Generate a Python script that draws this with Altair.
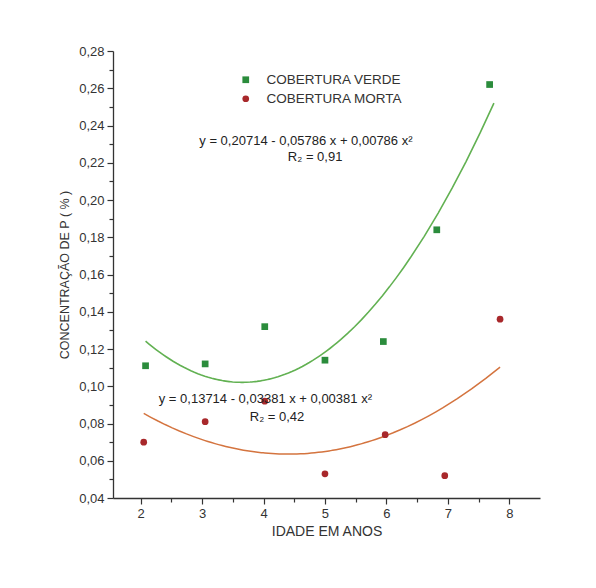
import altair as alt
import pandas as pd

# ---- data ----
idade_verde = [2.08, 3.05, 4.02, 5.0, 5.95, 6.82, 7.68]
p_verde = [0.111, 0.112, 0.132, 0.114, 0.124, 0.184, 0.262]
idade_morta = [2.05, 3.05, 4.02, 5.0, 5.98, 6.95, 7.85]
p_morta = [0.070, 0.081, 0.092, 0.053, 0.074, 0.052, 0.136]
series = ["COBERTURA VERDE", "COBERTURA MORTA"]
y_ticks = [0.04, 0.05, 0.06, 0.07, 0.08, 0.09, 0.10, 0.11, 0.12, 0.13, 0.14, 0.15, 0.16,
           0.17, 0.18, 0.19, 0.20, 0.21, 0.22, 0.23, 0.24, 0.25, 0.26, 0.27, 0.28]
x_ticks = [2, 2.5, 3, 3.5, 4, 4.5, 5, 5.5, 6, 6.5, 7, 7.5, 8]
eq_verde = "y = 0,20714 - 0,05786 x + 0,00786 x²"
r_verde = "R₂ = 0,91"
eq_morta = "y = 0,13714 - 0,03381 x + 0,00381 x²"
r_morta = "R₂ = 0,42"

df = pd.DataFrame({
    "idade": idade_verde + idade_morta,
    "p": p_verde + p_morta,
    "serie": [series[0]] * len(idade_verde) + [series[1]] * len(idade_morta),
})

FONT = "Liberation Sans"
xs = alt.Scale(domain=[1.55, 8.5], nice=False, zero=False)
ys = alt.Scale(domain=[0.04, 0.28], nice=False, zero=False)

x_axis = alt.Axis(values=x_ticks, orient="bottom", title="IDADE EM ANOS", grid=False,
                  tickSize={"condition": {"test": "datum.value % 1 != 0", "value": 4}, "value": 6},
                  labelFontSize=13, titleFontSize=14, titleFontWeight="normal",
                  labelFont=FONT, titleFont=FONT, labelColor="#333", titleColor="#333",
                  domainColor="#333", tickColor="#333", domainWidth=1.3, tickWidth=1.2,
                  labelPadding=3, titlePadding=4, labelOverlap=False,
                  labelExpr="datum.value % 1 == 0 ? format(datum.value, 'd') : ''")
y_axis = alt.Axis(values=y_ticks, orient="left", title="CONCENTRAÇÃO DE P ( % )", grid=False,
                  tickSize={"condition": {"test": "round(datum.value * 100) % 2 == 1", "value": 4}, "value": 6},
                  labelFontSize=13, titleFontSize=12.5, titleFontWeight="normal",
                  labelFont=FONT, titleFont=FONT, labelColor="#333", titleColor="#333",
                  domainColor="#333", tickColor="#333", domainWidth=1.3, tickWidth=1.2,
                  labelPadding=3, titlePadding=7, labelOverlap=False,
                  labelExpr="round(datum.value * 100) % 2 == 0 ? replace(format(datum.value, '.2f'), '.', ',') : ''")

leg = alt.Legend(title=None, orient="none", legendX=126, legendY=22,
                 labelFont=FONT, labelFontSize=13.5, labelColor="#333",
                 symbolSize=45, rowPadding=4, labelOffset=14)

base = alt.Chart(df)
X = alt.X("idade:Q", scale=xs, axis=x_axis)
Y = alt.Y("p:Q", scale=ys, axis=y_axis)

points = base.mark_point(filled=True, size=45, opacity=1).encode(
    x=X, y=Y,
    color=alt.Color("serie:N", scale=alt.Scale(domain=series, range=["#2b8c3c", "#a8282b"]),
                    legend=leg),
    shape=alt.Shape("serie:N", scale=alt.Scale(domain=series, range=["square", "circle"]),
                    legend=leg),
)

fit_verde = base.transform_filter(alt.datum.serie == series[0]).transform_regression(
    "idade", "p", method="poly", order=2, extent=[2.08, 7.75]
).mark_line(color="#62b152", strokeWidth=1.6).encode(x=X, y=Y)
fit_morta = base.transform_filter(alt.datum.serie == series[1]).transform_regression(
    "idade", "p", method="poly", order=2, extent=[2.05, 7.85]
).mark_line(color="#d4743f", strokeWidth=1.5).encode(x=X, y=Y)

def label(txt, xv, yv):
    return alt.Chart(pd.DataFrame({"t": [txt]})).mark_text(
        font=FONT, fontSize=13, color="#222", align="center", baseline="middle"
    ).encode(x=alt.XDatum(xv, scale=xs, axis=x_axis),
             y=alt.YDatum(yv, scale=ys, axis=y_axis), text="t:N")

texts = (label(eq_verde, 4.69, 0.2317) + label(r_verde, 4.84, 0.2231)
         + label(eq_morta, 4.03, 0.0932) + label(r_morta, 4.22, 0.0835))

chart = alt.layer(fit_verde, fit_morta, points, texts).properties(
    width=427, height=447,
    autosize=alt.AutoSizeParams(type="none"),
    padding={"left": 113, "top": 51, "right": 56, "bottom": 90},
    background="white",
).configure_view(stroke=None)

chart.save("out.html", embed_options={"renderer": "svg", "actions": False})
